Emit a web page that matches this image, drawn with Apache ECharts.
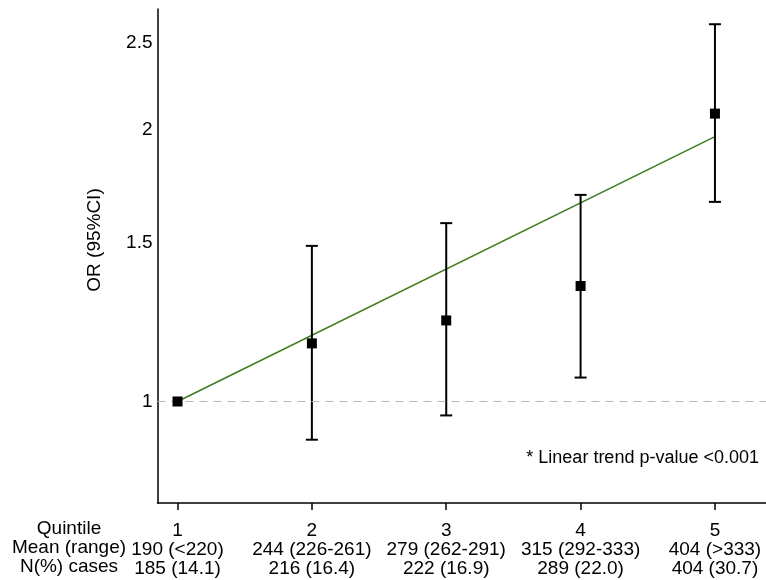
<!DOCTYPE html>
<html>
<head>
<meta charset="utf-8">
<script src="https://cdn.jsdelivr.net/npm/echarts@6/dist/echarts.min.js"></script>
<style>html,body{margin:0;padding:0;background:#fff}#c{width:766px;height:580px}</style>
</head>
<body>
<div id="c"></div>
<script>
// ---- data ----
var quintiles = [1, 2, 3, 4, 5];
var meanRange = ['190 (<220)', '244 (226-261)', '279 (262-291)', '315 (292-333)', '404 (>333)'];
var nCases = ['185 (14.1)', '216 (16.4)', '222 (16.9)', '289 (22.0)', '404 (30.7)'];
var orValues = [1.0, 1.16, 1.23, 1.343, 2.086];
var ciLower = [null, 0.907, 0.965, 1.063, 1.665];
var ciUpper = [null, 1.488, 1.577, 1.695, 2.621];
var trendX = [1, 5];
var trendOR = [1.0, 1.967];
var yTicks = [1, 1.5, 2, 2.5];
var rowTitles = ['Quintile', 'Mean (range)', 'N(%) cases'];
var yTitle = 'OR (95%CI)';
var note = '* Linear trend p-value <0.001';

var FONT = '"Liberation Sans", Arial, sans-serif';
var L = Math.log;

var errData = [];
quintiles.forEach(function (q, i) {
  if (ciLower[i] != null) errData.push([q, L(ciLower[i]), L(ciUpper[i])]);
});

var chart = echarts.init(document.getElementById('c'), null, {renderer: 'canvas'});
chart.setOption({
  animation: false,
  backgroundColor: '#fff',
  textStyle: {fontFamily: FONT},
  grid: {left: 157.5, right: 0, top: 9, bottom: 77, containLabel: false},
  xAxis: {
    type: 'value', min: 0.851, max: 5.38,
    splitLine: {show: false},
    axisLine: {show: true, onZero: false, lineStyle: {color: '#000', width: 1.5}},
    axisTick: {show: true, length: 7, inside: false, customValues: quintiles, lineStyle: {color: '#000', width: 1.5}},
    axisLabel: {
      customValues: quintiles, margin: 18, color: '#000', fontSize: 19, lineHeight: 19,
      fontFamily: FONT, align: 'center',
      formatter: function (v) {
        var i = quintiles.indexOf(Math.round(v));
        return quintiles[i] + '\n' + meanRange[i] + '\n' + nCases[i];
      }
    }
  },
  yAxis: {
    type: 'value', min: L(0.7716), max: L(2.725),
    splitLine: {show: false},
    axisLine: {show: true, onZero: false, lineStyle: {color: '#000', width: 1.5}},
    axisTick: {show: false},
    axisLabel: {
      customValues: yTicks.map(L), margin: 5, color: '#000', fontSize: 19, fontFamily: FONT,
      formatter: function (v) {
        var best = yTicks[0];
        yTicks.forEach(function (t) { if (Math.abs(L(t) - v) < Math.abs(L(best) - v)) best = t; });
        return String(best);
      }
    }
  },
  series: [
    {
      type: 'line', data: [],
      markLine: {
        silent: true, symbol: 'none', label: {show: false},
        lineStyle: {color: '#b8b8b8', type: [8, 6], width: 1.2},
        data: [{yAxis: L(1)}]
      }
    },
    {
      type: 'line', showSymbol: false, symbol: 'none', z: 3,
      lineStyle: {color: '#3f7a1c', width: 1.5},
      data: trendX.map(function (x, i) { return [x, L(trendOR[i])]; })
    },
    {
      type: 'custom', z: 4,
      data: errData,
      renderItem: function (params, api) {
        var x = api.value(0);
        var lo = api.coord([x, api.value(1)]);
        var hi = api.coord([x, api.value(2)]);
        var hw = 6;
        var st = {stroke: '#000', lineWidth: 2};
        return {
          type: 'group',
          children: [
            {type: 'line', shape: {x1: lo[0], y1: lo[1], x2: hi[0], y2: hi[1]}, style: st},
            {type: 'line', shape: {x1: lo[0] - hw, y1: lo[1], x2: lo[0] + hw, y2: lo[1]}, style: st},
            {type: 'line', shape: {x1: hi[0] - hw, y1: hi[1], x2: hi[0] + hw, y2: hi[1]}, style: st}
          ]
        };
      }
    },
    {
      type: 'scatter', z: 5, symbol: 'rect', symbolSize: 10,
      itemStyle: {color: '#000', opacity: 1},
      data: quintiles.map(function (q, i) { return [q, L(orValues[i])]; })
    }
  ],
  graphic: [
    {
      type: 'text', rotation: Math.PI / 2, x: 95, y: 240,
      style: {text: yTitle, font: '19px ' + FONT, fill: '#000', align: 'center', verticalAlign: 'middle'}
    },
    {
      type: 'text', x: 759, y: 458,
      style: {text: note, font: '18px ' + FONT, fill: '#000', align: 'right', verticalAlign: 'middle'}
    }
  ].concat(rowTitles.map(function (t, i) {
    return {
      type: 'text', x: 69, y: 529 + 19 * i,
      style: {text: t, font: '19px ' + FONT, fill: '#000', align: 'center', verticalAlign: 'middle'}
    };
  }))
});
</script>
</body>
</html>
